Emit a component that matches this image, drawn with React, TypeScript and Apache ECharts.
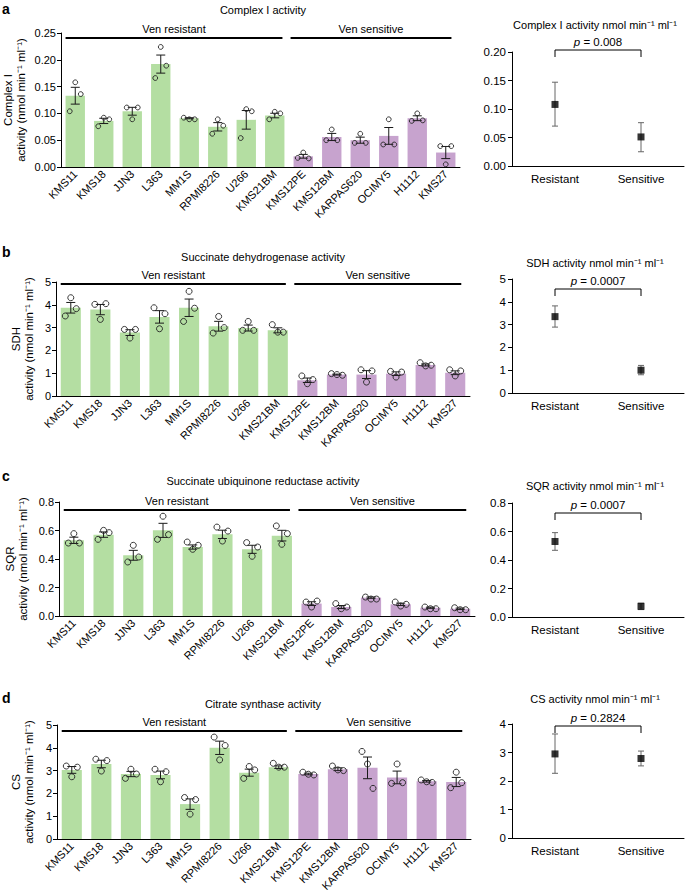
import React, { useEffect, useRef } from 'react';
import * as echarts from 'echarts';

const cellLines = ['KMS11', 'KMS18', 'JJN3', 'L363', 'MM1S', 'RPMI8226', 'U266', 'KMS21BM', 'KMS12PE', 'KMS12BM', 'KARPAS620', 'OCIMY5', 'H1112', 'KMS27'];
const RESISTANT_N = 8;
const groups = ['Resistant', 'Sensitive'];

// Panel a: Complex I
const complexIBars = [0.133, 0.086, 0.104, 0.192, 0.091, 0.075, 0.088, 0.096, 0.020, 0.056, 0.050, 0.058, 0.091, 0.027];
const complexIPoints = [
  [0.104, 0.158, 0.136], [0.076, 0.092, 0.089], [0.111, 0.089, 0.111], [0.166, 0.224, 0.189],
  [0.092, 0.089, 0.089], [0.062, 0.089, 0.077], [0.054, 0.108, 0.104], [0.089, 0.103, 0.100],
  [0.017, 0.027, 0.016], [0.050, 0.070, 0.050], [0.045, 0.062, 0.045], [0.042, 0.089, 0.042],
  [0.086, 0.100, 0.087], [0.039, 0.005, 0.039],
];
const complexISumMean = [0.108, 0.051];
const complexISumLow = [0.070, 0.025];
const complexISumHigh = [0.147, 0.076];

// Panel b: SDH
const sdhBars = [3.87, 3.79, 2.78, 3.47, 3.87, 3.06, 2.98, 2.88, 0.69, 0.94, 0.94, 0.98, 1.36, 1.02];
const sdhPoints = [
  [3.51, 4.31, 3.83], [4.02, 3.36, 4.05], [2.92, 2.54, 2.92], [3.87, 2.95, 3.61],
  [3.27, 4.59, 3.85], [2.76, 3.49, 3.00], [2.88, 3.27, 2.88], [3.13, 2.80, 2.80],
  [0.88, 0.54, 0.72], [0.98, 0.94, 0.91], [1.15, 0.61, 1.10], [1.08, 0.83, 1.05],
  [1.46, 1.32, 1.35], [1.15, 0.88, 1.10],
];
const sdhSumMean = [3.35, 1.0];
const sdhSumLow = [2.89, 0.80];
const sdhSumHigh = [3.82, 1.21];

// Panel c: SQR
const sqrBars = [0.531, 0.571, 0.426, 0.601, 0.484, 0.573, 0.468, 0.564, 0.087, 0.063, 0.129, 0.082, 0.058, 0.051];
const sqrPoints = [
  [0.512, 0.578, 0.512], [0.538, 0.601, 0.585], [0.379, 0.496, 0.414], [0.538, 0.700, 0.571],
  [0.519, 0.468, 0.496], [0.624, 0.526, 0.596], [0.515, 0.419, 0.484], [0.632, 0.503, 0.578],
  [0.098, 0.063, 0.105], [0.087, 0.051, 0.063], [0.133, 0.119, 0.119], [0.098, 0.070, 0.082],
  [0.063, 0.051, 0.051], [0.058, 0.044, 0.044],
];
const sqrSumMean = [0.53, 0.075];
const sqrSumLow = [0.468, 0.052];
const sqrSumHigh = [0.592, 0.097];

// Panel d: CS
const csBars = [3.03, 3.29, 2.85, 2.81, 1.53, 4.0, 2.91, 3.15, 2.85, 3.06, 3.12, 2.70, 2.53, 2.50];
const csPoints = [
  [3.20, 2.73, 3.15], [3.50, 2.98, 3.44], [2.66, 3.06, 2.85], [3.06, 2.51, 2.95],
  [1.82, 1.09, 1.73], [4.47, 3.47, 4.10], [2.66, 3.18, 3.03], [3.32, 3.15, 3.15],
  [2.93, 2.84, 2.81], [3.20, 3.03, 3.00], [3.84, 3.29, 2.22], [2.44, 3.29, 2.47],
  [2.59, 2.51, 2.48], [2.25, 2.93, 2.47],
];
const csSumMean = [2.95, 2.79];
const csSumLow = [2.27, 2.53];
const csSumHigh = [3.65, 3.05];

const FONT = "'Liberation Sans', Arial, Helvetica, sans-serif";
const GREEN = '#b4dea2';
const PURPLE = '#c7a3ce';
const INK = '#000000';

const panels = [
  {
    letter: 'a', letterY: 10, title: 'Complex I activity', titleY: 10,
    yName: ['Complex I', 'activity (nmol min⁻¹ ml⁻¹)'], yNameX: [8, 21],
    bars: complexIBars, points: complexIPoints, yMax: 0.25, yInterval: 0.05, decimals: 2,
    grid: { left: 61, top: 33, width: 399, height: 134 }, lineOffset: 5, radius: 2.4,
    sumTitle: 'Complex I activity nmol min⁻¹ ml⁻¹', sumTitleY: 25, p: '0.008', bracketOffset: -2,
    sumMean: complexISumMean, sumLow: complexISumLow, sumHigh: complexISumHigh,
    sumMax: 0.2, sumInterval: 0.05, sumDecimals: 2,
    sumGrid: { left: 512, top: 52, width: 172, height: 114 },
  },
  {
    letter: 'b', letterY: 253, title: 'Succinate dehydrogenase activity', titleY: 257,
    yName: ['SDH', 'activity (nmol min⁻¹ ml⁻¹)'], yNameX: [16, 29],
    bars: sdhBars, points: sdhPoints, yMax: 5, yInterval: 1, decimals: 0,
    grid: { left: 56, top: 282, width: 414, height: 114 }, lineOffset: 2, radius: 3,
    sumTitle: 'SDH activity nmol min⁻¹ ml⁻¹', sumTitleY: 263, p: '0.0007', bracketOffset: 10,
    sumMean: sdhSumMean, sumLow: sdhSumLow, sumHigh: sdhSumHigh,
    sumMax: 5, sumInterval: 1, sumDecimals: 0,
    sumGrid: { left: 512, top: 279, width: 172, height: 114 },
  },
  {
    letter: 'c', letterY: 477, title: 'Succinate ubiquinone reductase activity', titleY: 481,
    yName: ['SQR', 'activity (nmol min⁻¹ ml⁻¹)'], yNameX: [10, 23],
    bars: sqrBars, points: sqrPoints, yMax: 0.8, yInterval: 0.2, decimals: 1,
    grid: { left: 59, top: 502, width: 416, height: 114 }, lineOffset: 8, radius: 3,
    sumTitle: 'SQR activity nmol min⁻¹ ml⁻¹', sumTitleY: 486, p: '0.0007', bracketOffset: 10,
    sumMean: sqrSumMean, sumLow: sqrSumLow, sumHigh: sqrSumHigh,
    sumMax: 0.8, sumInterval: 0.2, sumDecimals: 1,
    sumGrid: { left: 512, top: 503, width: 172, height: 114 },
  },
  {
    letter: 'd', letterY: 699, title: 'Citrate synthase activity', titleY: 704,
    yName: ['CS', 'activity (nmol min⁻¹ ml⁻¹)'], yNameX: [16, 29],
    bars: csBars, points: csPoints, yMax: 5, yInterval: 1, decimals: 0,
    grid: { left: 57, top: 725, width: 414, height: 114 }, lineOffset: 6, radius: 3,
    sumTitle: 'CS activity nmol min⁻¹ ml⁻¹', sumTitleY: 699, p: '0.2824', bracketOffset: 2,
    sumMean: csSumMean, sumLow: csSumLow, sumHigh: csSumHigh,
    sumMax: 4, sumInterval: 1, sumDecimals: 0,
    sumGrid: { left: 512, top: 724, width: 172, height: 114 },
  },
];

function sem(vals: number[]) {
  const m = vals.reduce((a, b) => a + b, 0) / vals.length;
  const v = vals.reduce((a, b) => a + (b - m) * (b - m), 0) / (vals.length - 1);
  return Math.sqrt(v) / Math.sqrt(vals.length);
}

const axisLineStyle = { color: INK, width: 1 };
const labelBase = { color: INK, fontFamily: FONT, fontSize: 11 };

function buildOption() {
  const grid: any[] = [];
  const xAxis: any[] = [];
  const yAxis: any[] = [];
  const series: any[] = [];
  const graphic: any[] = [];

  panels.forEach((pn, i) => {
    const gi = i * 2;
    const si = i * 2 + 1;
    grid.push({ ...pn.grid, containLabel: false });
    grid.push({ ...pn.sumGrid, containLabel: false });

    xAxis.push({
      type: 'category', gridIndex: gi, data: cellLines,
      axisLine: { lineStyle: axisLineStyle },
      axisTick: { alignWithLabel: true, length: 4, lineStyle: axisLineStyle },
      axisLabel: { ...labelBase, rotate: 45, interval: 0, margin: 5 },
    });
    yAxis.push({
      type: 'value', gridIndex: gi, min: 0, max: pn.yMax, interval: pn.yInterval,
      axisLine: { show: true, lineStyle: axisLineStyle },
      axisTick: { show: true, length: 4, lineStyle: axisLineStyle },
      splitLine: { show: false },
      axisLabel: { ...labelBase, margin: 5, formatter: (v: number) => v.toFixed(pn.decimals) },
    });
    xAxis.push({
      type: 'category', gridIndex: si, data: groups,
      axisLine: { lineStyle: axisLineStyle },
      axisTick: { alignWithLabel: true, length: 4, lineStyle: axisLineStyle },
      axisLabel: { ...labelBase, fontSize: 11.5, margin: 7 },
    });
    yAxis.push({
      type: 'value', gridIndex: si, min: 0, max: pn.sumMax, interval: pn.sumInterval,
      axisLine: { show: true, lineStyle: axisLineStyle },
      axisTick: { show: true, length: 4, lineStyle: axisLineStyle },
      splitLine: { show: false },
      axisLabel: { ...labelBase, fontSize: 11.5, margin: 6, formatter: (v: number) => v.toFixed(pn.sumDecimals) },
    });

    const ax = { xAxisIndex: gi, yAxisIndex: gi };
    series.push({
      type: 'bar', ...ax, barWidth: '68%', silent: true,
      data: pn.bars.map((v, k) => ({ value: v, itemStyle: { color: k < RESISTANT_N ? GREEN : PURPLE } })),
      z: 2,
    });
    // error bars (SEM of the three replicates)
    series.push({
      type: 'custom', ...ax, silent: true, z: 4,
      data: pn.bars.map((m, k) => { const e = sem(pn.points[k]); return [k, m - e, m + e]; }),
      encode: { x: 0, y: [1, 2] },
      renderItem: (_p: any, api: any) => {
        const x = api.value(0);
        const lo = api.coord([x, api.value(1)]);
        const hi = api.coord([x, api.value(2)]);
        const c = 4.5;
        const st = { stroke: '#1a1a1a', lineWidth: 1 };
        return {
          type: 'group', children: [
            { type: 'line', shape: { x1: lo[0], y1: lo[1], x2: hi[0], y2: hi[1] }, style: st },
            { type: 'line', shape: { x1: hi[0] - c, y1: hi[1], x2: hi[0] + c, y2: hi[1] }, style: st },
            { type: 'line', shape: { x1: lo[0] - c, y1: lo[1], x2: lo[0] + c, y2: lo[1] }, style: st },
          ],
        };
      },
    });
    // replicate points
    const pts: number[][] = [];
    pn.points.forEach((arr, k) => arr.forEach((v, j) => pts.push([k, v, j])));
    series.push({
      type: 'custom', ...ax, silent: true, z: 5,
      data: pts, encode: { x: 0, y: 1 },
      renderItem: (_p: any, api: any) => {
        const c = api.coord([api.value(0), api.value(1)]);
        const off = (api.value(2) - 1) * 5.5;
        return {
          type: 'circle', shape: { cx: c[0] + off, cy: c[1], r: pn.radius },
          style: { fill: 'none', stroke: '#222', lineWidth: 0.9 },
        };
      },
    });
    // group lines: Ven resistant / Ven sensitive
    series.push({
      type: 'custom', ...ax, silent: true, z: 6, clip: false,
      data: [[0, pn.yMax]], encode: { x: 0, y: 1 },
      renderItem: (_p: any, api: any) => {
        const top = api.coord([0, pn.yMax])[1] + pn.lineOffset;
        const bw = api.size([1, 0])[0];
        const half = bw * 0.34;
        const x0 = api.coord([0, 0])[0] - half;
        const x1 = api.coord([RESISTANT_N - 1, 0])[0] + half - 2;
        const x2 = api.coord([RESISTANT_N, 0])[0] - half - 3;
        const x3 = api.coord([cellLines.length - 1, 0])[0] + half - 4;
        const ls = { stroke: INK, lineWidth: 2 };
        const ts = { fill: INK, fontFamily: FONT, fontSize: 11, align: 'center', verticalAlign: 'middle' };
        return {
          type: 'group', children: [
            { type: 'line', shape: { x1: x0, y1: top, x2: x1, y2: top }, style: ls },
            { type: 'line', shape: { x1: x2, y1: top, x2: x3, y2: top }, style: ls },
            { type: 'text', x: (x0 + x1) / 2, y: top - 9, style: { ...ts, text: 'Ven resistant' } },
            { type: 'text', x: (x2 + x3) / 2, y: top - 9, style: { ...ts, text: 'Ven sensitive' } },
          ],
        };
      },
    });

    const sx = { xAxisIndex: si, yAxisIndex: si };
    series.push({
      type: 'custom', ...sx, silent: true, z: 3,
      data: groups.map((_g, k) => [k, pn.sumLow[k], pn.sumHigh[k]]),
      encode: { x: 0, y: [1, 2] },
      renderItem: (_p: any, api: any) => {
        const x = api.value(0);
        const lo = api.coord([x, api.value(1)]);
        const hi = api.coord([x, api.value(2)]);
        const c = 3;
        const st = { stroke: '#666', lineWidth: 1 };
        return {
          type: 'group', children: [
            { type: 'line', shape: { x1: lo[0], y1: lo[1], x2: hi[0], y2: hi[1] }, style: st },
            { type: 'line', shape: { x1: hi[0] - c, y1: hi[1], x2: hi[0] + c, y2: hi[1] }, style: st },
            { type: 'line', shape: { x1: lo[0] - c, y1: lo[1], x2: lo[0] + c, y2: lo[1] }, style: st },
          ],
        };
      },
    });
    series.push({
      type: 'scatter', ...sx, silent: true, z: 4,
      symbol: 'rect', symbolSize: 7, itemStyle: { color: '#000' },
      data: pn.sumMean.map((v, k) => [k, v]),
    });
    // p-value bracket
    series.push({
      type: 'custom', ...sx, silent: true, z: 5, clip: false,
      data: [[0, pn.sumMax]], encode: { x: 0, y: 1 },
      renderItem: (_p: any, api: any) => {
        const y = api.coord([0, pn.sumMax])[1] + pn.bracketOffset;
        const xa = api.coord([0, 0])[0];
        const xb = api.coord([1, 0])[0];
        const st = { stroke: INK, lineWidth: 1 };
        return {
          type: 'group', children: [
            { type: 'polyline', shape: { points: [[xa, y + 7], [xa, y], [xb, y], [xb, y + 7]] }, style: { ...st, fill: 'none' } },
            {
              type: 'text', x: (xa + xb) / 2, y: y - 8,
              style: {
                text: '{i|p} = ' + pn.p, align: 'center', verticalAlign: 'middle',
                fill: INK, fontFamily: FONT, fontSize: 11.5,
                rich: { i: { fontStyle: 'italic', fontFamily: FONT, fontSize: 11.5, fill: INK } },
              },
            },
          ],
        };
      },
    });

    graphic.push({
      type: 'text', left: 2, top: pn.letterY - 8,
      style: { text: pn.letter, fill: '#000', fontFamily: FONT, fontSize: 14, fontWeight: 'bold' },
    });
    graphic.push({
      type: 'text', x: 263, y: pn.titleY,
      style: { text: pn.title, fill: INK, fontFamily: FONT, fontSize: 11, align: 'center', verticalAlign: 'middle' },
    });
    graphic.push({
      type: 'text', x: pn.sumGrid.left + pn.sumGrid.width / 2 - 3, y: pn.sumTitleY,
      style: { text: pn.sumTitle, fill: INK, fontFamily: FONT, fontSize: 11, align: 'center', verticalAlign: 'middle' },
    });
    const cy = pn.grid.top + pn.grid.height / 2;
    pn.yName.forEach((t, k) => {
      graphic.push({
        type: 'text', x: pn.yNameX[k], y: cy, rotation: Math.PI / 2,
        style: { text: t, fill: INK, fontFamily: FONT, fontSize: 11.5, align: 'center', verticalAlign: 'middle' },
      });
    });
  });

  return {
    animation: false,
    backgroundColor: '#fff',
    textStyle: { fontFamily: FONT },
    grid, xAxis, yAxis, series, graphic,
  };
}

export default function App() {
  const ref = useRef<HTMLDivElement>(null);
  useEffect(() => {
    if (!ref.current) return;
    const chart = echarts.init(ref.current, undefined, { renderer: 'svg' });
    chart.setOption(buildOption() as any);
    return () => chart.dispose();
  }, []);
  return <div ref={ref} style={{ position: 'absolute', left: 0, top: 0, width: 685, height: 896, background: '#fff' }} />;
}
